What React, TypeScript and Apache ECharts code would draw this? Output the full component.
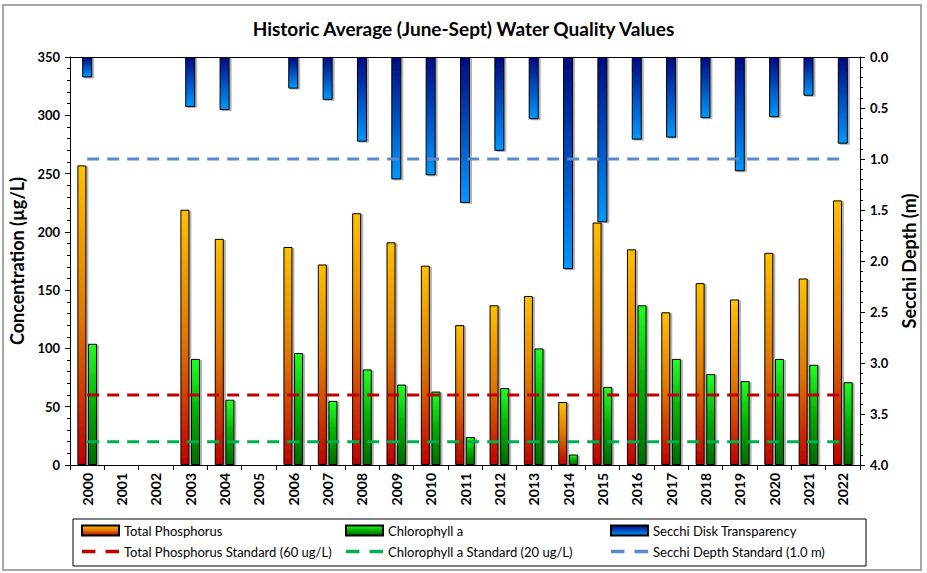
import React, { useEffect, useRef } from "react";
import * as echarts from "echarts";

const years = ["2000","2001","2002","2003","2004","2005","2006","2007","2008","2009","2010","2011","2012","2013","2014","2015","2016","2017","2018","2019","2020","2021","2022"];
const totalPhosphorus = [257, null, null, 219, 194, null, 187, 172, 216, 191, 171, 120, 137, 145, 54, 208, 185, 131, 156, 142, 182, 160, 227];
const chlorophyll = [104, null, null, 91, 56, null, 96, 55, 82, 69, 63, 24, 66, 100, 9, 67, 137, 91, 78, 72, 91, 86, 71];
const secchi = [0.2, null, null, 0.49, 0.52, null, 0.31, 0.42, 0.83, 1.2, 1.16, 1.43, 0.92, 0.61, 2.08, 1.62, 0.81, 0.79, 0.6, 1.12, 0.59, 0.38, 0.85];
const tpStandard = 60;
const chlStandard = 20;
const secchiStandard = 1.0;
const leftTicks = { min: 0, max: 350, interval: 50 };
const rightTicks = { min: 0, max: 4, interval: 0.5 };

const FONT = "Lato, 'Open Sans', sans-serif";
const DASH_ICON = "path://M0,0h12v3h-12z M21,0h12v3h-12z";

function grad(top: string, mid: string, bottom: string) {
  return new echarts.graphic.LinearGradient(0, 0, 0, 1, [
    { offset: 0, color: top },
    { offset: 0.5, color: mid },
    { offset: 1, color: bottom },
  ]);
}

export default function App() {
  const ref = useRef<HTMLDivElement>(null);
  useEffect(() => {
    document.body.style.margin = "0";
    const chart = echarts.init(ref.current!, undefined, { renderer: "svg" });
    const tpColor = grad("#FFC000", "#E07800", "#C00000");
    const chlColor = grad("#22FF22", "#00B000", "#006A00");
    const secColor = grad("#000A80", "#0050C0", "#0098FF");
    const barStyle = (c: any) => ({
      color: c,
      borderColor: "#000",
      borderWidth: 1,
      shadowColor: "rgba(0,0,0,0.3)",
      shadowOffsetX: 2,
      shadowOffsetY: 1,
      shadowBlur: 1,
    });
    const legendText = { fontFamily: FONT, fontSize: 13, color: "#000", lineHeight: 15 };
    const legendCommon = {
      orient: "vertical" as const,
      itemWidth: 37,
      itemHeight: 10,
      itemGap: 6,
      textStyle: legendText,
      selectedMode: false,
      top: 518,
    };
    chart.setOption({
      animation: false,
      title: {
        text: "Historic Average (June-Sept) Water Quality Values",
        left: "center",
        top: 14,
        textStyle: { fontFamily: FONT, fontSize: 19, fontWeight: "bold", color: "#000" },
      },
      graphic: [
        { type: "rect", shape: { x: 3, y: 5, width: 918, height: 565 }, style: { fill: "none", stroke: "#8a8a8a", lineWidth: 1.5 }, silent: true },
        { type: "rect", shape: { x: 73, y: 519, width: 793, height: 47 }, style: { fill: "none", stroke: "#000", lineWidth: 1 }, silent: true },
      ],
      legend: [
        { ...legendCommon, left: 76, data: [{ name: "Total Phosphorus", icon: "rect" }, { name: "Total Phosphorus Standard (60 ug/L)", icon: DASH_ICON }] },
        { ...legendCommon, left: 340, data: [{ name: "Chlorophyll a", icon: "rect" }, { name: "Chlorophyll a Standard (20 ug/L)", icon: DASH_ICON }] },
        { ...legendCommon, left: 605, data: [{ name: "Secchi Disk Transparency", icon: "rect" }, { name: "Secchi Depth Standard (1.0 m)", icon: DASH_ICON }] },
      ],
      grid: { left: 70, right: 67, top: 57, bottom: 108, containLabel: false },
      xAxis: [
        {
          type: "category",
          data: years,
          boundaryGap: true,
          axisLine: { show: true, lineStyle: { color: "#000", width: 1 } },
          axisTick: { show: true, length: 5, lineStyle: { color: "#000" } },
          axisLabel: { rotate: 90, interval: 0, margin: 8, fontFamily: FONT, fontSize: 14, fontWeight: "bold", color: "#000" },
        },
        {
          type: "category",
          data: years,
          position: "top",
          boundaryGap: true,
          axisLine: { show: true, lineStyle: { color: "#000", width: 1 } },
          axisTick: { show: false },
          axisLabel: { show: false },
        },
      ],
      yAxis: [
        {
          type: "value",
          ...leftTicks,
          name: "Concentration (µg/L)",
          nameLocation: "middle",
          nameRotate: 90,
          nameGap: 39,
          nameTextStyle: { fontFamily: FONT, fontSize: 18, fontWeight: "bold", color: "#000" },
          axisLine: { show: true, lineStyle: { color: "#000" } },
          axisTick: { show: true, length: 5, lineStyle: { color: "#000" } },
          minorTick: { show: true, splitNumber: 5, length: 3, lineStyle: { color: "#000" } },
          splitLine: { show: false },
          axisLabel: { margin: 10, fontFamily: FONT, fontSize: 13, fontWeight: "bold", color: "#000" },
        },
        {
          type: "value",
          ...rightTicks,
          inverse: true,
          position: "right",
          name: "Secchi Depth (m)",
          nameLocation: "middle",
          nameRotate: 90,
          nameGap: 40,
          nameTextStyle: { fontFamily: FONT, fontSize: 18, fontWeight: "bold", color: "#000" },
          axisLine: { show: true, lineStyle: { color: "#000" } },
          axisTick: { show: true, length: 5, lineStyle: { color: "#000" } },
          minorTick: { show: true, splitNumber: 5, length: 3, lineStyle: { color: "#000" } },
          splitLine: { show: false },
          axisLabel: { margin: 10, fontFamily: FONT, fontSize: 13, fontWeight: "bold", color: "#000", formatter: (v: number) => v.toFixed(1) },
        },
      ],
      series: [
        { name: "Total Phosphorus", type: "bar", xAxisIndex: 0, yAxisIndex: 0, data: totalPhosphorus, barWidth: 9, barGap: "18%", itemStyle: barStyle(tpColor) },
        { name: "Chlorophyll a", type: "bar", xAxisIndex: 0, yAxisIndex: 0, data: chlorophyll, barWidth: 9, barGap: "18%", itemStyle: barStyle(chlColor) },
        { name: "Secchi Disk Transparency", type: "bar", xAxisIndex: 1, yAxisIndex: 1, data: secchi, barWidth: 10, itemStyle: barStyle(secColor) },
        { name: "Total Phosphorus Standard (60 ug/L)", type: "line", xAxisIndex: 0, yAxisIndex: 0, data: years.map(() => tpStandard), symbol: "none", z: 5, lineStyle: { color: "#C00000", width: 3, type: [12, 8] }, itemStyle: { color: "#C00000" } },
        { name: "Chlorophyll a Standard (20 ug/L)", type: "line", xAxisIndex: 0, yAxisIndex: 0, data: years.map(() => chlStandard), symbol: "none", z: 5, lineStyle: { color: "#00B050", width: 3, type: [12, 8] }, itemStyle: { color: "#00B050" } },
        { name: "Secchi Depth Standard (1.0 m)", type: "line", xAxisIndex: 0, yAxisIndex: 1, data: years.map(() => secchiStandard), symbol: "none", z: 5, lineStyle: { color: "#5B8AC8", width: 3, type: [12, 8] }, itemStyle: { color: "#5B8AC8" } },
      ],
    });
    return () => chart.dispose();
  }, []);
  return <div ref={ref} style={{ position: "absolute", left: 0, top: 0, width: 927, height: 573 }} />;
}
